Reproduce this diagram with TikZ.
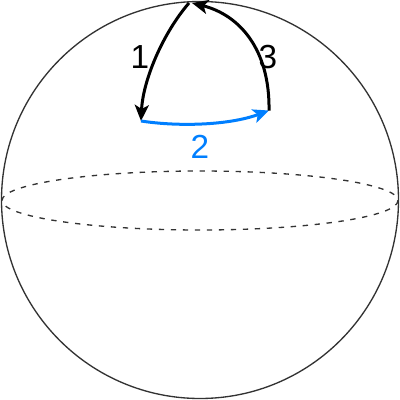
\documentclass[tikz,border=0pt]{standalone}
\usepackage{fontspec}
\setmainfont{Liberation Sans}
\usetikzlibrary{arrows.meta}

\definecolor{sphereline}{RGB}{51,51,51}
\definecolor{arcblue}{RGB}{0,127,255}

\tikzset{every picture/.style={line width=0.75pt}}

\begin{document}
\begin{tikzpicture}[x=0.75pt,y=0.75pt,yscale=-1,xscale=1,
	arcline/.style={line width=2.25pt,-{Stealth[length=12pt,width=10.5pt,inset=3pt]}},
	numlabel/.style={inner sep=0.75pt,font=\fontsize{25}{30}\selectfont}]
	\useasboundingbox (0,0) rectangle (400,400);
	
	%Shape: Circle
	\draw [color=sphereline,line width=1pt] (200,200) circle [radius=198.5];
	%Shape: Ellipse
	\draw [color=sphereline,line width=1pt,dash pattern=on 4pt off 5pt] (200,200.5) ellipse [x radius=198, y radius=29.5];
	
	\coordinate (top1) at (189,3);
	\coordinate (top3) at (192,3);
	\coordinate (cornerL) at (141,121);
	\coordinate (cornerR) at (269,110.5);
	
	%Curve Lines
	\draw [arcline] (top1) .. controls (163,33) and (143,80) .. (cornerL);
	%Curve Lines
	\draw [arcline,color=arcblue] (cornerL) .. controls (180,127) and (230,125) .. (cornerR);
	%Curve Lines
	\draw [arcline] (cornerR) .. controls (270,50) and (240,15) .. (top3);
	
	% Text Node
	\node (lbl1) at (140,57) [numlabel] {1};
	% Text Node
	\node (lbl2) at (200,147) [numlabel,color=arcblue] {2};
	% Text Node
	\node (lbl3) at (268,57) [numlabel] {3};
	
\end{tikzpicture}
\end{document}
